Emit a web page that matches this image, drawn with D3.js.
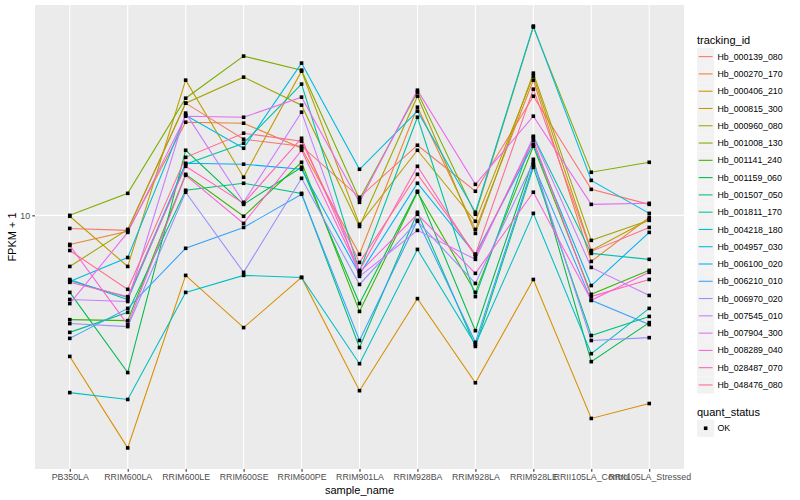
<!DOCTYPE html>
<html>
<head>
<meta charset="utf-8">
<script src="https://cdn.jsdelivr.net/npm/d3@7"></script>
<style>
  body { margin: 0; background: #fff; }
  text { font-family: "Liberation Sans", Arial, sans-serif; }
</style>
</head>
<body>
<svg id="chart" width="800" height="500"></svg>
<script>
// samples along the x axis
const samples = ["PB350LA", "RRIM600LA", "RRIM600LE", "RRIM600SE", "RRIM600PE",
  "RRIM901LA", "RRIM928BA", "RRIM928LA", "RRIM928LE", "RRII105LA_Control", "RRII105LA_Stressed"];

const trackingIds = ["Hb_000139_080", "Hb_000270_170", "Hb_000406_210", "Hb_000815_300",
  "Hb_000960_080", "Hb_001008_130", "Hb_001141_240", "Hb_001159_060", "Hb_001507_050",
  "Hb_001811_170", "Hb_004218_180", "Hb_004957_030", "Hb_006100_020", "Hb_006210_010",
  "Hb_006970_020", "Hb_007545_010", "Hb_007904_300", "Hb_008289_040", "Hb_028487_070",
  "Hb_048476_080"];

// FPKM + 1, one row per tracking id, one column per sample
const fpkm = [
  [9.31, 9.21, 18.48, 15.17, 14.60, 11.04, 14.68, 11.41, 19.20, 11.53, 10.62],
  [8.53, 9.16, 16.65, 16.56, 14.44, 8.08, 18.08, 9.26, 20.96, 7.77, 9.89],
  [4.62, 2.80, 7.20, 5.41, 7.12, 3.83, 6.34, 4.00, 7.04, 3.29, 3.57],
  [9.95, 7.56, 20.96, 12.32, 22.02, 9.52, 14.28, 9.68, 21.43, 8.25, 9.78],
  [7.56, 9.26, 18.48, 21.31, 18.28, 9.41, 19.20, 9.06, 21.78, 8.72, 9.73],
  [10.00, 11.28, 18.99, 23.91, 22.14, 10.92, 19.63, 10.06, 28.03, 12.66, 13.37],
  [5.65, 5.62, 12.52, 9.95, 13.37, 5.91, 11.35, 6.56, 14.60, 6.49, 7.40],
  [6.56, 4.23, 14.28, 10.62, 13.01, 6.17, 11.41, 5.32, 13.59, 4.49, 5.56],
  [5.27, 5.88, 11.47, 11.92, 11.28, 4.85, 10.17, 4.88, 13.01, 5.18, 5.75],
  [7.04, 6.31, 13.23, 14.84, 20.51, 7.36, 17.11, 6.41, 15.42, 8.12, 7.86],
  [3.79, 3.65, 6.56, 7.20, 7.12, 4.44, 8.30, 4.93, 10.11, 4.69, 6.01],
  [6.96, 7.94, 17.30, 14.44, 23.01, 12.87, 17.69, 10.17, 28.18, 12.11, 10.11],
  [7.00, 6.38, 13.30, 13.23, 12.87, 7.24, 11.92, 8.08, 14.76, 6.81, 9.11],
  [5.10, 6.01, 8.35, 9.36, 11.22, 5.04, 9.73, 4.99, 13.23, 6.28, 5.50],
  [5.53, 5.44, 11.35, 7.32, 12.25, 6.85, 9.68, 6.89, 13.37, 5.04, 5.12],
  [6.31, 6.24, 17.50, 10.74, 17.59, 7.16, 9.21, 7.86, 15.33, 7.52, 6.45],
  [6.17, 9.11, 17.21, 17.11, 19.10, 10.74, 19.84, 11.85, 17.21, 10.62, 10.68],
  [8.48, 5.50, 12.45, 9.57, 14.28, 7.32, 10.06, 7.28, 11.35, 6.28, 7.32],
  [6.93, 6.41, 13.08, 10.68, 15.25, 7.40, 13.08, 7.99, 15.09, 6.41, 7.04],
  [8.25, 6.67, 13.74, 15.68, 15.00, 7.73, 12.52, 8.08, 19.95, 8.21, 9.36]
];

const yTicks = [10];
const quantStatus = ["OK"];

// ggplot hue palette
const palette = ["#F8766D", "#EA8331", "#D89000", "#C09B00", "#A3A500", "#7CAE00", "#39B600",
  "#00BB4E", "#00BF7D", "#00C1A3", "#00BFC4", "#00BAE0", "#00B0F6", "#35A2FF", "#9590FF",
  "#C77CFF", "#E76BF3", "#FA62DB", "#FF62BC", "#FF6C91"];

const svg = d3.select("#chart");
const panel = { left: 35, right: 684, top: 5, bottom: 469 };

const x = d3.scalePoint().domain(samples).range([panel.left, panel.right]).padding(0.6);

// log scale with 5% expansion like ggplot
const all = fpkm.flat();
const lo = Math.log10(d3.min(all)), hi = Math.log10(d3.max(all));
const pad = (hi - lo) * 0.05;
const y = d3.scaleLog()
  .domain([Math.pow(10, lo - pad), Math.pow(10, hi + pad)])
  .range([panel.bottom, panel.top]);

const color = d3.scaleOrdinal().domain(trackingIds).range(palette);

// panel background
svg.append("rect")
  .attr("x", panel.left).attr("y", panel.top)
  .attr("width", panel.right - panel.left).attr("height", panel.bottom - panel.top)
  .attr("fill", "#EBEBEB");

// grid
svg.append("g").selectAll("line").data(samples).enter().append("line")
  .attr("x1", d => x(d)).attr("x2", d => x(d))
  .attr("y1", panel.top).attr("y2", panel.bottom)
  .attr("stroke", "#fff").attr("stroke-width", 1.07);
svg.append("g").selectAll("line").data(yTicks).enter().append("line")
  .attr("x1", panel.left).attr("x2", panel.right)
  .attr("y1", d => y(d)).attr("y2", d => y(d))
  .attr("stroke", "#fff").attr("stroke-width", 1.07);

// lines
const line = d3.line().x((d, i) => x(samples[i])).y(d => y(d));
svg.append("g").selectAll("path").data(fpkm).enter().append("path")
  .attr("d", line)
  .attr("fill", "none")
  .attr("stroke", (d, i) => color(trackingIds[i]))
  .attr("stroke-width", 1.07);

// points
const pts = [];
fpkm.forEach(row => row.forEach((v, i) => pts.push({ s: samples[i], v: v })));
svg.append("g").selectAll("rect").data(pts).enter().append("rect")
  .attr("x", d => x(d.s) - 1.8).attr("y", d => y(d.v) - 1.8)
  .attr("width", 3.6).attr("height", 3.6)
  .attr("fill", "#000");

// x axis
const xAxis = d3.axisBottom(x).tickSize(2.74).tickPadding(2.5);
const gx = svg.append("g").attr("transform", `translate(0,${panel.bottom})`).call(xAxis);
gx.select(".domain").remove();
gx.selectAll("line").attr("stroke", "#333333").attr("stroke-width", 1.07);
gx.selectAll("text").attr("fill", "#4D4D4D").style("font-size", "8.8px")
  .style("font-family", "'Liberation Sans', Arial, sans-serif");

// y axis
const yAxis = d3.axisLeft(y).tickValues(yTicks).tickFormat(d3.format("d")).tickSize(2.74).tickPadding(2.2);
const gy = svg.append("g").attr("transform", `translate(${panel.left},0)`).call(yAxis);
gy.select(".domain").remove();
gy.selectAll("line").attr("stroke", "#333333").attr("stroke-width", 1.07);
gy.selectAll("text").attr("fill", "#4D4D4D").style("font-size", "8.8px")
  .style("font-family", "'Liberation Sans', Arial, sans-serif");

// axis titles
svg.append("text")
  .attr("x", (panel.left + panel.right) / 2).attr("y", 494)
  .attr("text-anchor", "middle").style("font-size", "11px").attr("fill", "#000")
  .text("sample_name");
svg.append("text")
  .attr("transform", `translate(16,${(panel.top + panel.bottom) / 2}) rotate(-90)`)
  .attr("text-anchor", "middle").style("font-size", "11px").attr("fill", "#000")
  .text("FPKM + 1");

// legend: tracking_id
const lg = svg.append("g").attr("transform", "translate(697,0)");
lg.append("text").attr("x", 0).attr("y", 44).style("font-size", "11px").attr("fill", "#000")
  .text("tracking_id");
const keyH = 17.28, key0 = 48;
const items = lg.selectAll("g.item").data(trackingIds).enter().append("g")
  .attr("transform", (d, i) => `translate(0,${key0 + i * keyH})`);
items.append("rect").attr("width", 17.28).attr("height", 17.28).attr("fill", "#F2F2F2");
items.append("line").attr("x1", 1.7).attr("x2", 15.6).attr("y1", 8.64).attr("y2", 8.64)
  .attr("stroke", d => color(d)).attr("stroke-width", 1.07);
items.append("text").attr("x", 20.5).attr("y", 8.64).attr("dy", "0.35em")
  .style("font-size", "8.8px").attr("fill", "#000").text(d => d);

// legend: quant_status
const qy = key0 + trackingIds.length * keyH + 12;
lg.append("text").attr("x", 0).attr("y", qy + 10).style("font-size", "11px").attr("fill", "#000")
  .text("quant_status");
const q = lg.selectAll("g.q").data(quantStatus).enter().append("g")
  .attr("transform", (d, i) => `translate(0,${qy + 14 + i * keyH})`);
q.append("rect").attr("width", 17.28).attr("height", 17.28).attr("fill", "#F2F2F2");
q.append("rect").attr("x", 8.64 - 1.8).attr("y", 8.64 - 1.8).attr("width", 3.6).attr("height", 3.6).attr("fill", "#000");
q.append("text").attr("x", 20.5).attr("y", 8.64).attr("dy", "0.35em")
  .style("font-size", "8.8px").attr("fill", "#000").text(d => d);
</script>
</body>
</html>
